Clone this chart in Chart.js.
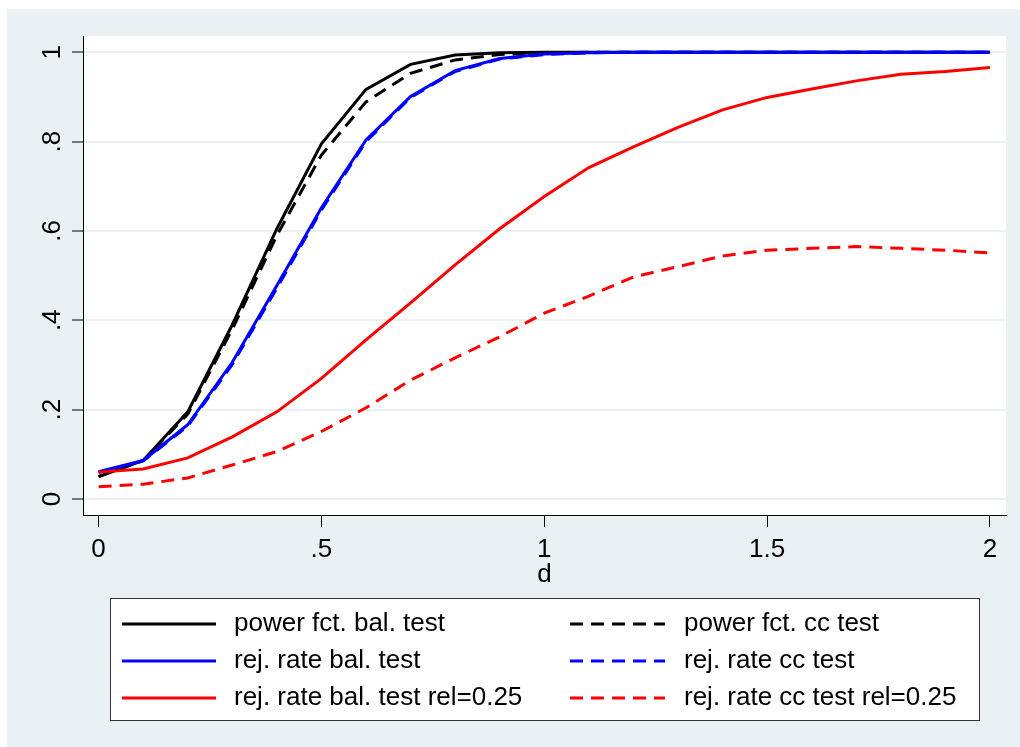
<!DOCTYPE html>
<html lang="en">
<head>
  <meta charset="UTF-8">
  <title>Power function and rejection rates by d</title>
  <script src="https://cdn.jsdelivr.net/npm/chart.js"></script>
  <style>
    body {
      margin: 0;
      background: #fff;
    }
    canvas {
      display: block;
    }
  </style>
</head>
<body>
  <canvas id="powerChart" width="1020" height="747"></canvas>

  <script>
    // effect size d on the x axis
    const dValues = [0, 0.1, 0.2, 0.3, 0.4, 0.5, 0.6, 0.7, 0.8, 0.9, 1.0,
                     1.1, 1.2, 1.3, 1.4, 1.5, 1.6, 1.7, 1.8, 1.9, 2.0];

    const powerBal = [0.05, 0.086, 0.195, 0.39, 0.605, 0.795, 0.917, 0.973, 0.994, 0.999, 1,
                      1, 1, 1, 1, 1, 1, 1, 1, 1, 1];
    const powerCc = [0.05, 0.086, 0.19, 0.38, 0.59, 0.77, 0.889, 0.953, 0.983, 0.995, 0.999,
                     1, 1, 1, 1, 1, 1, 1, 1, 1, 1];
    const rejBal = [0.061, 0.086, 0.166, 0.306, 0.478, 0.652, 0.804, 0.901, 0.959, 0.986, 0.996,
                    0.999, 1, 1, 1, 1, 1, 1, 1, 1, 1];
    const rejCc = [0.059, 0.085, 0.163, 0.301, 0.472, 0.647, 0.8, 0.899, 0.957, 0.985, 0.995,
                   0.999, 1, 1, 1, 1, 1, 1, 1, 1, 1];
    const rejBalRel = [0.06, 0.067, 0.092, 0.139, 0.195, 0.27, 0.356, 0.439, 0.524, 0.605, 0.677,
                       0.742, 0.788, 0.832, 0.871, 0.899, 0.918, 0.936, 0.951, 0.957, 0.966];
    const rejCcRel = [0.027, 0.033, 0.047, 0.076, 0.106, 0.151, 0.204, 0.266, 0.316, 0.363, 0.416,
                      0.454, 0.497, 0.52, 0.544, 0.557, 0.561, 0.565, 0.561, 0.557, 0.551];

    const seriesNames = [
      'power fct. bal. test', 'power fct. cc test',
      'rej. rate bal. test', 'rej. rate cc test',
      'rej. rate bal. test rel=0.25', 'rej. rate cc test rel=0.25'
    ];
    const seriesValues = [powerBal, powerCc, rejBal, rejCc, rejBalRel, rejCcRel];
    const seriesColors = ['#000000', '#000000', '#0000ff', '#0000ff', '#ff0000', '#ff0000'];
    const seriesDashed = [false, true, false, true, false, true];

    const xTicks = [0, 0.5, 1, 1.5, 2];
    const xTickLabels = ['0', '.5', '1', '1.5', '2'];
    const yTicks = [0, 0.2, 0.4, 0.6, 0.8, 1];
    const yTickLabels = ['0', '.2', '.4', '.6', '.8', '1'];

    const FONT = '"Liberation Sans", Arial, sans-serif';
    const BLUISH = '#e9f1f3';
    const DASH = [13, 8];
    const LINE_W = 3;

    const datasets = seriesNames.map((name, i) => ({
      label: name,
      data: dValues.map((d, k) => ({ x: d, y: seriesValues[i][k] })),
      borderColor: seriesColors[i],
      borderWidth: LINE_W,
      borderDash: seriesDashed[i] ? DASH : [],
      pointRadius: 0,
      tension: 0,
      fill: false,
      order: seriesNames.length - i   // later series on top
    }));

    // graph region, plot region and the rotated y labels
    const backdrop = {
      id: 'backdrop',
      beforeDraw(chart) {
        const ctx = chart.ctx;
        const a = chart.chartArea;
        ctx.save();
        ctx.fillStyle = '#fff';
        ctx.fillRect(0, 0, chart.width, chart.height);
        ctx.fillStyle = BLUISH;
        ctx.fillRect(7, 9, chart.width - 7, chart.height - 9);
        ctx.fillStyle = '#fff';
        ctx.fillRect(a.left, a.top, a.right - a.left, a.bottom - a.top);
        ctx.restore();
      },
      afterDraw(chart) {
        const ctx = chart.ctx;
        const yScale = chart.scales.y;
        ctx.save();
        ctx.fillStyle = '#000';
        ctx.font = '26px ' + FONT;
        ctx.textAlign = 'center';
        ctx.textBaseline = 'middle';
        yTicks.forEach((v, i) => {
          ctx.save();
          ctx.translate(53, yScale.getPixelForValue(v));
          ctx.rotate(-Math.PI / 2);
          ctx.fillText(yTickLabels[i], 0, 0);
          ctx.restore();
        });
        ctx.restore();
      }
    };

    // boxed two-column legend below the plot
    const boxLegend = {
      id: 'boxLegend',
      afterDraw(chart) {
        const ctx = chart.ctx;
        const box = { left: 110, top: 598, right: 979, bottom: 720 };
        const rows = [624, 661, 698];
        const cols = [{ x0: 122, x1: 216, tx: 234 }, { x0: 570, x1: 665, tx: 684 }];
        ctx.save();
        ctx.fillStyle = '#fff';
        ctx.fillRect(box.left, box.top, box.right - box.left, box.bottom - box.top);
        ctx.strokeStyle = '#333';
        ctx.lineWidth = 1;
        ctx.strokeRect(box.left + 0.5, box.top + 0.5, box.right - box.left, box.bottom - box.top);
        ctx.font = '26px ' + FONT;
        ctx.textBaseline = 'middle';
        ctx.textAlign = 'left';
        chart.data.datasets.forEach((ds, i) => {
          const c = cols[i % 2];
          const y = rows[Math.floor(i / 2)];
          ctx.strokeStyle = ds.borderColor;
          ctx.lineWidth = LINE_W;
          ctx.setLineDash(ds.borderDash);
          ctx.beginPath();
          ctx.moveTo(c.x0, y);
          ctx.lineTo(c.x1, y);
          ctx.stroke();
          ctx.setLineDash([]);
          ctx.fillStyle = '#000';
          ctx.fillText(ds.label, c.tx, y);
        });
        ctx.restore();
      }
    };

    new Chart(document.getElementById('powerChart'), {
      type: 'line',
      data: { datasets: datasets },
      plugins: [backdrop, boxLegend],
      options: {
        responsive: false,
        animation: false,
        events: [],
        layout: { padding: { top: 36, right: 14, bottom: 157, left: 0 } },
        plugins: {
          legend: { display: false },
          tooltip: { enabled: false }
        },
        scales: {
          x: {
            type: 'linear',
            min: -0.035,
            max: 2.036,
            afterBuildTicks: scale => { scale.ticks = xTicks.map(v => ({ value: v })); },
            afterFit: scale => { scale.height = 75; },
            ticks: {
              color: '#000',
              font: { size: 26, family: FONT },
              padding: 7,
              maxRotation: 0,
              callback: (v, i) => xTickLabels[i]
            },
            grid: {
              drawOnChartArea: false,
              tickColor: '#000',
              tickLength: 12,
              tickWidth: 1
            },
            border: { color: '#000', width: 1 },
            title: {
              display: true,
              text: 'd',
              color: '#000',
              font: { size: 26, family: FONT },
              padding: 0
            }
          },
          y: {
            min: -0.036,
            max: 1.0365,
            afterBuildTicks: scale => { scale.ticks = yTicks.map(v => ({ value: v })); },
            afterFit: scale => { scale.width = 83; },
            ticks: { display: false },
            grid: {
              color: BLUISH,
              lineWidth: 2,
              tickColor: '#000',
              tickLength: 11,
              tickWidth: 1
            },
            border: { color: '#000', width: 1 }
          }
        }
      }
    });
  </script>
</body>
</html>
